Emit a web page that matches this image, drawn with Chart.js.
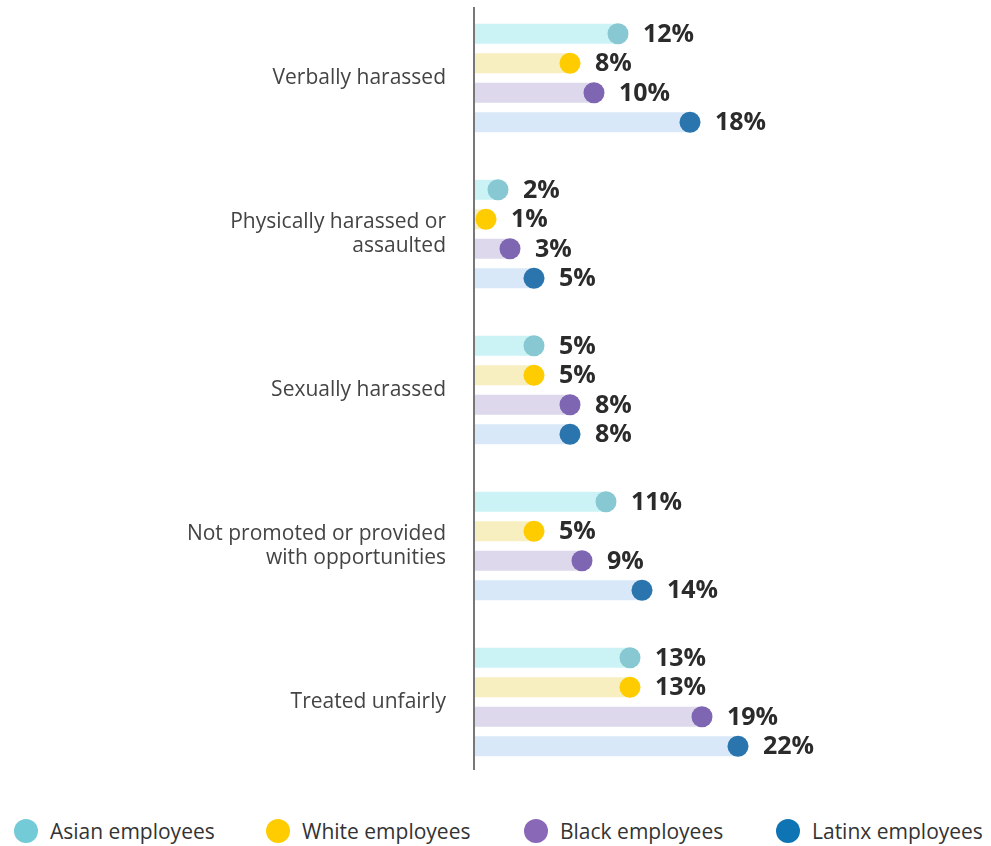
<!DOCTYPE html>
<html>
<head>
<meta charset="utf-8">
<script src="https://cdn.jsdelivr.net/npm/chart.js@4/dist/chart.umd.min.js"></script>
<style>
  body { margin: 0; background: #fff; font-family: "Open Sans", sans-serif; }
  #wrap { position: relative; width: 991px; height: 846px; }
  #box { position: absolute; left: 0; top: 0; width: 991px; height: 800px; }
  #legend { position: absolute; left: 0; top: 818px; width: 991px; height: 26px; }
  .item { position: absolute; top: 0; height: 26px; display: flex; align-items: center; font-size: 21px; color: #333; white-space: nowrap; }
  .dot { width: 24px; height: 24px; border-radius: 50%; margin-right: 12px; }
</style>
</head>
<body>
<div id="wrap">
  <div id="box"><canvas id="chart"></canvas></div>
  <div id="legend"></div>
</div>
<script>
const categories = [
  'Verbally harassed',
  ['Physically harassed or', 'assaulted'],
  'Sexually harassed',
  ['Not promoted or provided', 'with opportunities'],
  'Treated unfairly'
];
const groups = ['Asian employees', 'White employees', 'Black employees', 'Latinx employees'];
const asian = [12, 2, 5, 11, 13];
const white = [8, 1, 5, 5, 13];
const black = [10, 3, 8, 9, 19];
const latinx = [18, 5, 8, 14, 22];

const barColors = ['#cbf3f5', '#f8efc1', '#ddd8eb', '#d9e8f9'];
const dotColors = ['#88c8d3', '#ffcc00', '#7f66b3', '#2a75ae'];
const legendColors = ['#72cbd6', '#ffcc00', '#8a68b8', '#0f74b3'];
const legendLeft = [14, 266, 524, 776];

// dots and % labels sit at the end of every bar
const endDots = {
  id: 'endDots',
  afterDatasetsDraw(chart) {
    const ctx = chart.ctx;
    const area = chart.chartArea;
    ctx.save();
    ctx.fillStyle = '#777';
    ctx.fillRect(area.left - 1, 7, 2, 763);
    chart.data.datasets.forEach((ds, i) => {
      chart.getDatasetMeta(i).data.forEach((bar, j) => {
        ctx.beginPath();
        ctx.arc(bar.x, bar.y, 10.5, 0, Math.PI * 2);
        ctx.fillStyle = dotColors[i];
        ctx.fill();
        ctx.fillStyle = '#2b2b2b';
        ctx.font = 'bold 25px "Open Sans"';
        ctx.textAlign = 'left';
        ctx.textBaseline = 'middle';
        ctx.fillText(ds.data[j] + '%', bar.x + 25, bar.y + 1);
      });
    });
    ctx.restore();
  }
};

new Chart(document.getElementById('chart'), {
  type: 'bar',
  data: {
    labels: categories,
    datasets: [asian, white, black, latinx].map((vals, i) => ({
      label: groups[i],
      data: vals,
      backgroundColor: barColors[i],
      categoryPercentage: 0.756,
      barPercentage: 0.678
    }))
  },
  options: {
    indexAxis: 'y',
    responsive: true,
    maintainAspectRatio: false,
    animation: false,
    layout: { padding: { top: 0, right: 217, bottom: 20, left: 0 } },
    plugins: { legend: { display: false }, tooltip: { enabled: false } },
    scales: {
      x: { display: false, min: 0, max: 25 },
      y: {
        afterFit(scale) {
          scale.width = 474;
          scale.paddingTop = 0;
          scale.paddingBottom = 0;
        },
        border: { display: false },
        grid: { display: false, drawTicks: false },
        ticks: {
          padding: 28,
          color: '#444',
          font: { family: 'Open Sans', size: 21, lineHeight: 1.15 }
        }
      }
    }
  },
  plugins: [endDots]
});

const legend = document.getElementById('legend');
groups.forEach((g, i) => {
  const item = document.createElement('div');
  item.className = 'item';
  item.style.left = legendLeft[i] + 'px';
  item.innerHTML = '<span class="dot" style="background:' + legendColors[i] + '"></span>' + g;
  legend.appendChild(item);
});
</script>
</body>
</html>
